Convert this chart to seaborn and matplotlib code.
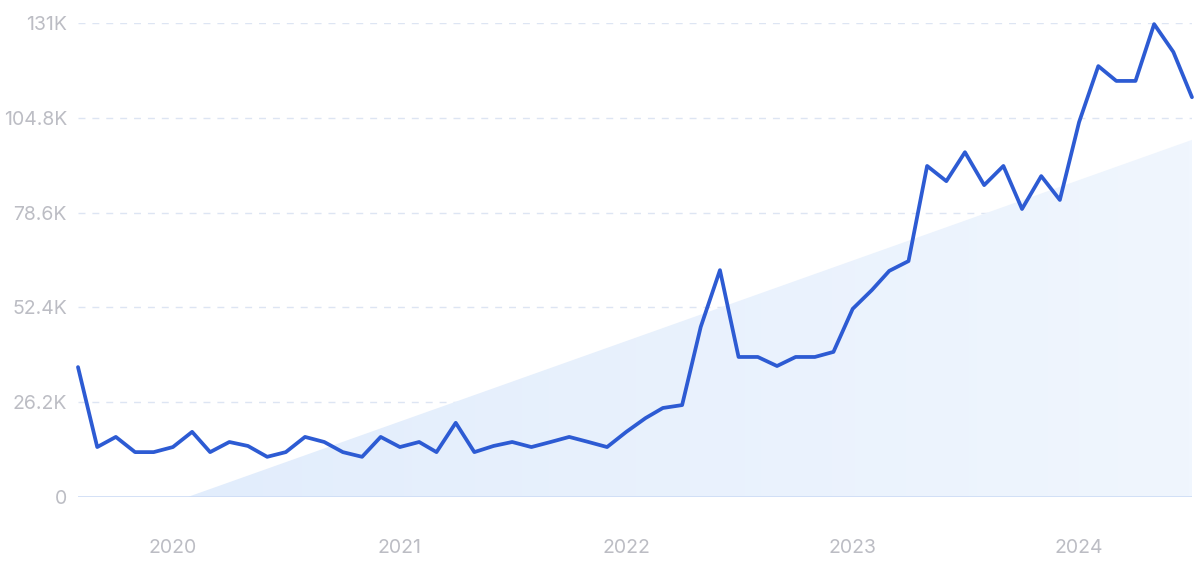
import numpy as np
import pandas as pd
import seaborn as sns
import matplotlib.pyplot as plt
import matplotlib.dates as mdates
from matplotlib.patches import Polygon
from matplotlib.colors import LinearSegmentedColormap

# monthly search volume, Aug 2019 - Jul 2024
months = pd.date_range("2019-08-01", periods=60, freq="MS")
volume = [35900, 13800, 16600, 12400, 12400, 13800, 18000, 12400, 15200, 14100,
          11100, 12400, 16600, 15200, 12400, 11100, 16600, 13800, 15200, 12400,
          20500, 12400, 14100, 15200, 13800, 15200, 16600, 15200, 13800, 18000,
          21800, 24600, 25400, 47000, 62700, 38700, 38700, 36200, 38700, 38700,
          40100, 52000, 57200, 62500, 65200, 91500, 87300, 95300, 86200, 91500,
          79600, 88700, 82100, 103600, 119100, 115000, 115000, 130700, 123000, 110500]

# trend wedge (start / end)
trend_dates = pd.to_datetime(["2020-01-25", "2024-07-01"])
trend_values = [0, 98700]

y_ticks = [0, 26200, 52400, 78600, 104800, 131000]
y_labels = ["0", "26.2K", "52.4K", "78.6K", "104.8K", "131K"]
x_ticks = pd.to_datetime(["2020-01-01", "2021-01-01", "2022-01-01", "2023-01-01", "2024-01-01"])
x_labels = ["2020", "2021", "2022", "2023", "2024"]

df = pd.DataFrame({"month": months, "volume": volume})

sns.set_style("white")
plt.rcParams["font.family"] = ["Inter", "DejaVu Sans"]

fig = plt.figure(figsize=(12, 5.62), dpi=100)
ax = fig.add_axes([0.065, 0.1157, 0.9283, 0.8433])

# gradient-filled trend wedge
x0, x1 = mdates.date2num(trend_dates[0]), mdates.date2num(trend_dates[1])
poly = Polygon([[x0, 0], [x1, trend_values[1]], [x1, 0]], closed=True,
               facecolor="none", edgecolor="none")
ax.add_patch(poly)
cmap = LinearSegmentedColormap.from_list("wedge", ["#e2edfc", "#f0f6fe"])
grad = np.linspace(0, 1, 256).reshape(1, -1)
img = ax.imshow(grad, cmap=cmap, aspect="auto", extent=[x0, x1, 0, trend_values[1]],
                origin="lower", zorder=1)
img.set_clip_path(poly)

sns.lineplot(data=df, x="month", y="volume", color="#2d5bd3", linewidth=2.7,
             ax=ax, zorder=3, clip_on=False)

ax.set_xlim(months[0], months[-1])
ax.set_ylim(0, 131000)
ax.set_yticks(y_ticks)
ax.set_yticklabels(y_labels)
ax.set_xticks(x_ticks)
ax.set_xticklabels(x_labels)

for t in y_ticks[1:]:
    ax.axhline(t, color="#dde5f3", linewidth=1, linestyle=(0, (5, 5)), zorder=0)
ax.axhline(0, color="#cddcf5", linewidth=1.2, zorder=2)

for s in ax.spines.values():
    s.set_visible(False)
ax.tick_params(axis="both", length=0, labelcolor="#bcbdc4", labelsize=14)
ax.tick_params(axis="y", pad=8)
ax.tick_params(axis="x", pad=30)
ax.set_xlabel("")
ax.set_ylabel("")

plt.savefig("out.png", dpi=100)
